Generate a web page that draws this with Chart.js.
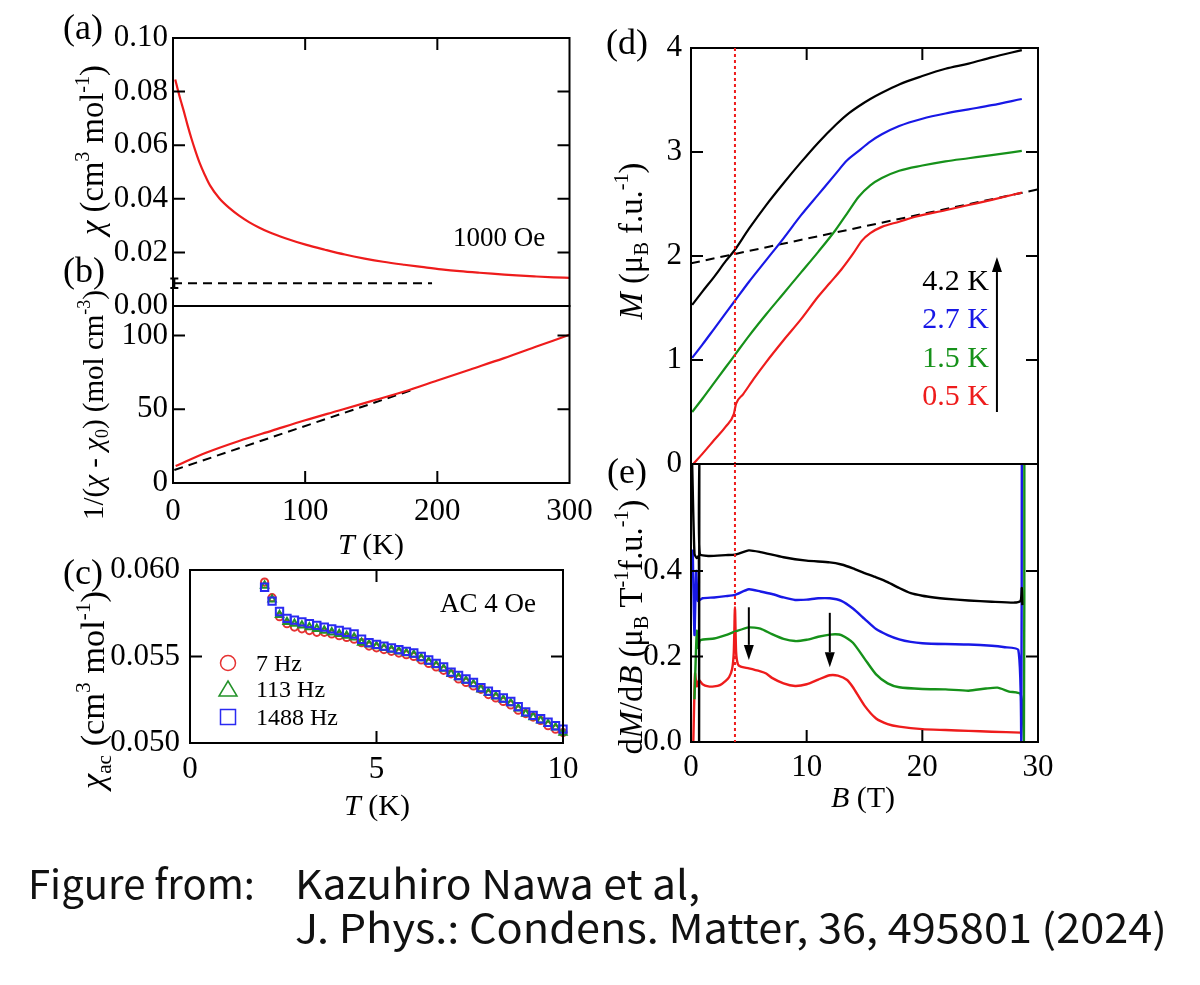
<!DOCTYPE html>
<html><head><meta charset="utf-8">
<script src="https://cdn.jsdelivr.net/npm/chart.js@4.4.0/dist/chart.umd.min.js"></script>
<style>
html,body{margin:0;padding:0;background:#fff;}
body{width:1200px;height:985px;position:relative;overflow:hidden;}
canvas{position:absolute;left:0;top:0;}
.cap{position:absolute;font-family:"Noto Sans CJK JP","Noto Sans",sans-serif;font-weight:400;font-size:40px;color:#111;white-space:nowrap;line-height:1;transform-origin:0 0;}
</style></head><body>
<canvas id="ca" width="1200" height="985"></canvas>
<canvas id="cb" width="1200" height="985"></canvas>
<canvas id="cc" width="1200" height="985"></canvas>
<canvas id="cd" width="1200" height="985"></canvas>
<canvas id="ce" width="1200" height="985"></canvas>
<div class="cap" data-w="227" style="left:28px;top:862px;">Figure from:</div>
<div class="cap" data-w="405" style="left:295px;top:862px;">Kazuhiro Nawa et al,</div>
<div class="cap" data-w="872" style="left:295px;top:906px;">J. Phys.: Condens. Matter, 36, 495801 (2024)</div>
<script>
// ---------------- DATA ----------------
// (a) chi vs T
const aT   = [1.7, 4, 6, 8, 11, 14, 17, 20, 24, 28, 35, 43, 50, 57.5, 65, 72, 85, 101, 115, 130, 145, 159, 175, 188, 203, 217, 232, 246, 260, 275, 288, 300];
const aChi = [0.0845, 0.0800, 0.0764, 0.0730, 0.0675, 0.0624, 0.0578, 0.0536, 0.0490, 0.0450, 0.0402, 0.0364, 0.0337, 0.0313, 0.0293, 0.0277, 0.0253, 0.0228, 0.0210, 0.0192, 0.0177, 0.0165, 0.0154, 0.0146, 0.0137, 0.0130, 0.0124, 0.0119, 0.0114, 0.0110, 0.0107, 0.0105];
const aChi0T = [0, 196];
const aChi0  = [0.0085, 0.0085];
const aChi0Err = 0.0018;
const aTicksY = [0, 0.02, 0.04, 0.06, 0.08, 0.10];
const abTicksX = [0, 100, 200, 300];
// (b) 1/(chi - chi0) vs T
const bT   = [2, 25, 50, 75, 100, 125, 150, 175, 200, 225, 250, 275, 300];
const bInv = [11.5, 20.5, 28.5, 35.5, 42.5, 49, 55.5, 62, 69.5, 77, 84.5, 92.5, 100.5];
const bFitT   = [1, 180];
const bFitInv = [8.8, 62.8];
const bTicksY = [0, 50, 100];
// (c) chi_ac vs T
const cT = [2.0, 2.2, 2.4, 2.6, 2.8, 3.0, 3.2, 3.4, 3.6, 3.8, 4.0, 4.2, 4.4, 4.6, 4.8, 5.0, 5.2, 5.4, 5.6, 5.8, 6.0, 6.2, 6.4, 6.6, 6.8, 7.0, 7.2, 7.4, 7.6, 7.8, 8.0, 8.2, 8.4, 8.6, 8.8, 9.0, 9.2, 9.4, 9.6, 9.8, 10.0];
const c7Hz    = [0.0593, 0.0584, 0.0573, 0.0569, 0.0567, 0.0566, 0.0565, 0.0564, 0.0564, 0.0563, 0.0562, 0.0561, 0.0560, 0.0558, 0.0556, 0.0555, 0.0554, 0.0553, 0.0552, 0.0551, 0.0550, 0.0548, 0.0546, 0.0544, 0.0542, 0.0540, 0.0537, 0.0535, 0.0533, 0.0531, 0.0528, 0.0526, 0.0524, 0.0522, 0.0519, 0.0517, 0.0515, 0.0513, 0.0510, 0.0508, 0.0506];
const c113Hz  = [0.0591, 0.0583, 0.0574, 0.0570, 0.0569, 0.0568, 0.0567, 0.0566, 0.0565, 0.0564, 0.0563, 0.0562, 0.0561, 0.0558, 0.0557, 0.0556, 0.0555, 0.0554, 0.0553, 0.0552, 0.0551, 0.0549, 0.0547, 0.0545, 0.0543, 0.0540, 0.0538, 0.0536, 0.0534, 0.0531, 0.0529, 0.0527, 0.0525, 0.0523, 0.0520, 0.0517, 0.0515, 0.0513, 0.0511, 0.0509, 0.0506];
const c1488Hz = [0.0590, 0.0582, 0.0576, 0.0572, 0.0571, 0.0570, 0.0569, 0.0568, 0.0567, 0.0566, 0.0565, 0.0564, 0.0563, 0.0560, 0.0558, 0.0557, 0.0556, 0.0555, 0.0554, 0.0553, 0.0552, 0.0550, 0.0548, 0.0546, 0.0544, 0.0541, 0.0539, 0.0537, 0.0535, 0.0532, 0.0530, 0.0528, 0.0526, 0.0524, 0.0521, 0.0518, 0.0516, 0.0514, 0.0512, 0.0510, 0.0508];
const cLabels = ['7 Hz', '113 Hz', '1488 Hz'];
const cTicksX = [0, 5, 10];
const cTicksY = [0.050, 0.055, 0.060];
// (d) M vs B
const dB      = [0.1, 1, 2, 3, 3.8, 5, 6.5, 8, 9.5, 11, 12.5, 13.5, 14.5, 15.5, 16.5, 18, 20, 22, 24, 26, 28.6];
const dM42    = [1.53, 1.66, 1.80, 1.95, 2.06, 2.26, 2.49, 2.70, 2.90, 3.09, 3.26, 3.36, 3.44, 3.51, 3.57, 3.65, 3.73, 3.80, 3.85, 3.91, 3.98];
const dM27    = [1.02, 1.15, 1.30, 1.45, 1.57, 1.75, 1.96, 2.17, 2.39, 2.59, 2.79, 2.92, 3.01, 3.10, 3.17, 3.25, 3.32, 3.37, 3.41, 3.45, 3.51];
const dM15    = [0.50, 0.63, 0.78, 0.93, 1.05, 1.23, 1.44, 1.64, 1.84, 2.04, 2.25, 2.41, 2.57, 2.68, 2.75, 2.82, 2.87, 2.91, 2.94, 2.97, 3.01];
const dB05    = [0.2, 1, 2, 3, 3.7, 3.9, 4.5, 5.5, 6.5, 8, 9.5, 11, 12, 13, 14, 14.8, 15.5, 16.5, 18, 19.5, 22, 24, 26, 28.6];
const dM05    = [0.0, 0.1, 0.23, 0.36, 0.48, 0.58, 0.67, 0.83, 0.98, 1.19, 1.39, 1.61, 1.74, 1.87, 2.02, 2.15, 2.22, 2.28, 2.33, 2.38, 2.44, 2.49, 2.54, 2.61];
const dFitB = [0, 30];
const dFitM = [1.93, 2.64];
const dLabels = ['4.2 K', '2.7 K', '1.5 K', '0.5 K'];
const deTicksX = [0, 10, 20, 30];
const dTicksY = [0, 1, 2, 3, 4];
const dotB = 3.8;
// (e) dM/dB vs B
const eB42 = [0.1, 0.3, 0.5, 0.68, 0.7, 0.72, 0.76, 1.5, 3, 3.8, 5, 6, 8, 10, 12, 13, 14, 15, 16, 17, 18, 19, 20, 21, 22, 24, 26, 28, 28.5, 28.6, 28.65];
const e42  = [0.65, 0.44, 0.43, 0.435, 0.0, 0.65, 0.44, 0.435, 0.437, 0.438, 0.448, 0.444, 0.432, 0.424, 0.42, 0.415, 0.406, 0.395, 0.385, 0.374, 0.36, 0.348, 0.342, 0.338, 0.335, 0.331, 0.328, 0.326, 0.33, 0.36, 0.32];
const eB27 = [0.15, 0.3, 0.45, 0.6, 1, 2, 3, 3.8, 5, 6, 7, 8, 9, 10, 11, 12, 13, 14, 15, 16, 17, 18, 19, 20, 22, 24, 26, 27, 28.3, 28.55, 28.6];
const e27  = [0.45, 0.25, 0.40, 0.33, 0.336, 0.338, 0.341, 0.344, 0.357, 0.352, 0.346, 0.338, 0.332, 0.333, 0.336, 0.336, 0.33, 0.312, 0.288, 0.264, 0.25, 0.24, 0.234, 0.231, 0.229, 0.228, 0.225, 0.222, 0.215, 0.0, 0.65];
const eB15 = [0.3, 0.5, 0.6, 0.8, 2, 3, 3.8, 5, 6, 7, 8, 9, 10, 11, 12, 12.5, 13, 14, 15, 16, 17, 18, 20, 22, 24, 25.5, 26.5, 27.5, 28.5, 28.78, 28.82];
const e15  = [0.10, 0.26, 0.22, 0.238, 0.242, 0.25, 0.258, 0.268, 0.265, 0.252, 0.241, 0.236, 0.239, 0.246, 0.251, 0.252, 0.25, 0.232, 0.195, 0.158, 0.137, 0.128, 0.124, 0.123, 0.12, 0.125, 0.127, 0.118, 0.112, 0.0, 0.65];
const eB05 = [0.2, 0.35, 0.5, 0.7, 1, 1.5, 2, 2.5, 3, 3.3, 3.55, 3.7, 3.8, 3.9, 4.05, 4.3, 5, 6, 6.5, 7, 8, 9, 10, 11, 12, 12.7, 13.5, 14, 15, 16, 17, 18, 20, 22, 24, 26, 28.5];
const e05  = [0.0, 0.16, 0.13, 0.145, 0.135, 0.13, 0.13, 0.133, 0.143, 0.152, 0.17, 0.21, 0.315, 0.21, 0.182, 0.176, 0.172, 0.165, 0.16, 0.15, 0.137, 0.131, 0.135, 0.146, 0.156, 0.155, 0.145, 0.128, 0.085, 0.055, 0.042, 0.036, 0.03, 0.028, 0.026, 0.024, 0.022];
const eArrowB   = [5, 12];
const eArrowTop = [0.315, 0.302];
const eArrowTip = [0.192, 0.175];
const eTicksY = [0, 0.2, 0.4];

// ---------------- STYLE / HELPERS ----------------
const SERIF = '"Liberation Serif","Times New Roman",serif';
const RED = '#ee1c1c', GREEN = '#16911a', BLUE = '#1818e6', BLACK = '#000';
const pts = (xs, ys) => xs.map((x, i) => ({x: x, y: ys[i]}));

function rich(ctx, parts, cx, cy, size, rot, len, align) {
  const fontFor = (st, s) => {
    const small = (st === 'sup' || st === 'sub' || st === 'isub');
    const f = small ? s * 0.62 : s;
    return ((st === 'i' || st === 'isub') ? 'italic ' : '') + f.toFixed(2) + 'px ' + SERIF;
  };
  const measure = (s) => { let w = 0; const ws = parts.map(([t, st]) => { ctx.font = fontFor(st, s); const m = ctx.measureText(t).width; w += m; return m; }); return {w, ws}; };
  let m = measure(size);
  if (len) { size = size * len / m.w; m = measure(size); }
  ctx.save();
  ctx.translate(cx, cy);
  if (rot) ctx.rotate(rot);
  ctx.fillStyle = '#000';
  ctx.textBaseline = 'alphabetic'; ctx.textAlign = 'left';
  let x = align === 'left' ? 0 : (align === 'right' ? -m.w : -m.w / 2);
  const base = size * 0.33;
  parts.forEach(([t, st], i) => {
    ctx.font = fontFor(st, size);
    const dy = st === 'sup' ? -size * 0.42 : ((st === 'sub' || st === 'isub') ? size * 0.2 : 0);
    ctx.fillText(t, x, base + dy);
    x += m.ws[i];
  });
  ctx.restore();
}

function text(ctx, t, x, y, size, color, align) {
  ctx.save();
  ctx.font = size + 'px ' + SERIF;
  ctx.fillStyle = color || '#000';
  ctx.textAlign = align || 'left';
  ctx.textBaseline = 'alphabetic';
  ctx.fillText(t, x, y);
  ctx.restore();
}

function vArrow(ctx, x, y1, y2, color) { // from y1 to y2 with head at y2
  const dir = y2 > y1 ? 1 : -1, hl = 15, hw = 5;
  ctx.save();
  ctx.strokeStyle = color; ctx.fillStyle = color; ctx.lineWidth = 2;
  ctx.beginPath(); ctx.moveTo(x, y1); ctx.lineTo(x, y2 - dir * hl); ctx.stroke();
  ctx.beginPath(); ctx.moveTo(x, y2); ctx.lineTo(x - hw, y2 - dir * hl); ctx.lineTo(x + hw, y2 - dir * hl); ctx.closePath(); ctx.fill();
  ctx.restore();
}

const framePlugin = {
  id: 'frame',
  afterDatasetsDraw(chart, args, opts) {
    const {ctx, chartArea: a, scales} = chart;
    const sides = opts.sides || 'tblr', L = 12;
    ctx.save();
    ctx.strokeStyle = '#000'; ctx.lineWidth = 2;
    ctx.beginPath();
    scales.x.ticks.forEach(t => {
      const p = scales.x.getPixelForValue(t.value);
      if (p < a.left + 3 || p > a.right - 3) return;
      if (sides.includes('t')) { ctx.moveTo(p, a.top); ctx.lineTo(p, a.top + L); }
      if (sides.includes('b')) { ctx.moveTo(p, a.bottom); ctx.lineTo(p, a.bottom - L); }
    });
    scales.y.ticks.forEach(t => {
      const p = scales.y.getPixelForValue(t.value);
      if (p < a.top + 3 || p > a.bottom - 3) return;
      if (sides.includes('l')) { ctx.moveTo(a.left, p); ctx.lineTo(a.left + L, p); }
      if (sides.includes('r')) { ctx.moveTo(a.right, p); ctx.lineTo(a.right - L, p); }
    });
    ctx.stroke();
    ctx.strokeRect(a.left, a.top, a.right - a.left, a.bottom - a.top);
    ctx.restore();
  }
};

function axis(min, max, ticks, fmt, show, pad, sizeFn) {
  return {
    type: 'linear', min: min, max: max,
    grid: {display: false, drawTicks: false},
    border: {display: false},
    afterBuildTicks: s => { s.ticks = ticks.map(v => ({value: v})); },
    afterFit: sizeFn,
    ticks: {display: show, padding: pad, color: '#000', font: {family: SERIF, size: 31}, maxRotation: 0, autoSkip: false,
            callback: v => fmt(v)}
  };
}

function makeChart(id, box, datasets, xs, ys, sides, draw) {
  return new Chart(document.getElementById(id), {
    type: 'line',
    data: {datasets: datasets},
    options: {
      responsive: false, animation: false, devicePixelRatio: 1,
      layout: {padding: {left: box.l - box.yw, top: box.t, right: 1200 - box.r, bottom: 985 - box.b - box.xh}},
      plugins: {legend: {display: false}, tooltip: {enabled: false}, frame: {sides: sides}},
      scales: {x: xs, y: ys}
    },
    plugins: [framePlugin, {id: 'annot_' + id, afterDraw: chart => draw(chart)}]
  });
}

const line = (data, color, extra) => Object.assign({data: data, borderColor: color, backgroundColor: color, borderWidth: 2.2, pointRadius: 0, fill: false, clip: 0, cubicInterpolationMode: 'monotone'}, extra || {});
const dashed = (data) => line(data, '#000', {borderDash: [9, 6], borderWidth: 2, cubicInterpolationMode: 'default', tension: 0});

// ---------------- PANEL (a) ----------------
const boxA = {l: 173, t: 38, r: 569.5, b: 306, yw: 100, xh: 0};
makeChart('ca', boxA,
  [line(pts(aT, aChi), RED), dashed(pts(aChi0T, aChi0))],
  axis(0, 300, abTicksX, v => String(v), false, 0, s => { s.height = boxA.xh; }),
  axis(0, 0.1, aTicksY, v => v.toFixed(2), true, 5, s => { s.width = boxA.yw; }),
  'tlr',
  chart => {
    const {ctx, scales: {x, y}} = chart;
    const ex = x.getPixelForValue(1), y1 = y.getPixelForValue(aChi0[0] - aChi0Err), y2 = y.getPixelForValue(aChi0[0] + aChi0Err);
    ctx.save(); ctx.strokeStyle = '#000'; ctx.lineWidth = 2; ctx.beginPath();
    ctx.moveTo(ex, y1); ctx.lineTo(ex, y2); ctx.moveTo(ex - 4, y1); ctx.lineTo(ex + 4, y1); ctx.moveTo(ex - 4, y2); ctx.lineTo(ex + 4, y2);
    ctx.stroke(); ctx.restore();
    text(ctx, '1000 Oe', 453, 246, 27);
    rich(ctx, [['(a)', '']], 83, 27, 36);
    rich(ctx, [['(b)', '']], 84, 270, 36);
    rich(ctx, [['χ', 'i'], [' (cm', ''], ['3', 'sup'], [' mol', ''], ['-1', 'sup'], [')', '']], 92, 150, 30, -Math.PI / 2, 170);
  });

// ---------------- PANEL (b) ----------------
const boxB = {l: 173, t: 306, r: 569.5, b: 483, yw: 100, xh: 60};
makeChart('cb', boxB,
  [line(pts(bT, bInv), RED), dashed(pts(bFitT, bFitInv))],
  axis(0, 300, abTicksX, v => String(v), true, 10, s => { s.height = boxB.xh; }),
  axis(0, 120, bTicksY, v => String(v), true, 5, s => { s.width = boxB.yw; }),
  'blr',
  chart => {
    const {ctx} = chart;
    rich(ctx, [['1/(', ''], ['χ', 'i'], [' - ', ''], ['χ', 'i'], ['0', 'sub'], [') (mol cm', ''], ['-3', 'sup'], [')', '']], 93, 405, 28, -Math.PI / 2, 230);
    rich(ctx, [['T', 'i'], [' (K)', '']], 371, 544, 30);
  });

// ---------------- PANEL (c) ----------------
const boxC = {l: 190, t: 570, r: 563, b: 743, yw: 100, xh: 60};
const C_RED = '#e63232', C_GREEN = '#23922a', C_BLUE = '#2a2af2';
const mk = (data, color, style, r) => ({data: data, showLine: false, borderColor: color, backgroundColor: 'rgba(0,0,0,0)', pointStyle: style, pointRadius: r, pointBorderWidth: 2, pointBorderColor: color, pointBackgroundColor: 'rgba(0,0,0,0)', clip: 6});
makeChart('cc', boxC,
  [mk(pts(cT, c1488Hz), C_BLUE, 'rect', 5.2), mk(pts(cT, c113Hz), C_GREEN, 'triangle', 4.2), mk(pts(cT, c7Hz), C_RED, 'circle', 3.6)],
  axis(0, 10, cTicksX, v => String(v), true, 8, s => { s.height = boxC.xh; }),
  axis(0.05, 0.06, cTicksY, v => v.toFixed(3), true, 10, s => { s.width = boxC.yw; }),
  'tblr',
  chart => {
    const {ctx} = chart;
    rich(ctx, [['(c)', '']], 83, 572, 36);
    text(ctx, 'AC 4 Oe', 440, 612, 27);
    const lx = 228, ly = [663, 689, 717];
    ctx.save(); ctx.lineWidth = 1.5;
    ctx.strokeStyle = C_RED; ctx.beginPath(); ctx.arc(lx, ly[0], 7.5, 0, 2 * Math.PI); ctx.stroke();
    ctx.strokeStyle = C_GREEN; ctx.beginPath(); ctx.moveTo(lx, ly[1] - 8); ctx.lineTo(lx + 9, ly[1] + 7); ctx.lineTo(lx - 9, ly[1] + 7); ctx.closePath(); ctx.stroke();
    ctx.strokeStyle = C_BLUE; ctx.strokeRect(lx - 7.5, ly[2] - 7.5, 15, 15);
    ctx.restore();
    cLabels.forEach((t, i) => text(ctx, t, 256, ly[i] + 8, 24));
    rich(ctx, [['χ', 'i'], ['ac', 'sub'], [' (cm', ''], ['3', 'sup'], [' mol', ''], ['-1', 'sup'], [')', '']], 93, 690, 30, -Math.PI / 2, 198);
    rich(ctx, [['T', 'i'], [' (K)', '']], 377, 805, 30);
  });

// ---------------- PANEL (d) ----------------
const boxD = {l: 691, t: 48, r: 1038, b: 464, yw: 80, xh: 0};
makeChart('cd', boxD,
  [line(pts(dB, dM42), BLACK), line(pts(dB, dM27), BLUE), line(pts(dB, dM15), GREEN), line(pts(dB05, dM05), RED), dashed(pts(dFitB, dFitM))],
  axis(0, 30, deTicksX, v => String(v), false, 0, s => { s.height = boxD.xh; }),
  axis(0, 4, dTicksY, v => String(v), true, 9, s => { s.width = boxD.yw; }),
  'tlr',
  chart => {
    const {ctx, chartArea: a, scales: {x, y}} = chart;
    const px = x.getPixelForValue(dotB);
    ctx.save(); ctx.strokeStyle = RED; ctx.lineWidth = 2; ctx.setLineDash([3, 3]);
    ctx.beginPath(); ctx.moveTo(px, a.top); ctx.lineTo(px, a.bottom); ctx.stroke(); ctx.restore();
    const cols = [BLACK, BLUE, GREEN, RED], by = [290, 328, 367, 405];
    dLabels.forEach((t, i) => text(ctx, t, 989, by[i], 30, cols[i], 'right'));
    vArrow(ctx, x.getPixelForValue(26.45), y.getPixelForValue(0.5), y.getPixelForValue(1.99), '#000');
    rich(ctx, [['(d)', '']], 627, 42, 36);
    rich(ctx, [['M', 'i'], [' (μ', ''], ['B', 'sub'], [' f.u.', ''], ['-1', 'sup'], [')', '']], 631, 241, 30, -Math.PI / 2, 157);
  });

// ---------------- PANEL (e) ----------------
const boxE = {l: 691, t: 464, r: 1038, b: 742, yw: 80, xh: 60};
const eLine = (data, color) => line(data, color, {cubicInterpolationMode: 'default', tension: 0.2, borderWidth: 2.4});
makeChart('ce', boxE,
  [eLine(pts(eB42, e42), BLACK), eLine(pts(eB27, e27), BLUE), eLine(pts(eB15, e15), GREEN), eLine(pts(eB05, e05), RED)],
  axis(0, 30, deTicksX, v => String(v), true, 7.5, s => { s.height = boxE.xh; }),
  axis(0, 0.65, eTicksY, v => v.toFixed(1), true, 9, s => { s.width = boxE.yw; }),
  'blr',
  chart => {
    const {ctx, chartArea: a, scales: {x, y}} = chart;
    const px = x.getPixelForValue(dotB);
    ctx.save(); ctx.strokeStyle = RED; ctx.lineWidth = 2; ctx.setLineDash([3, 3]);
    ctx.beginPath(); ctx.moveTo(px, a.top); ctx.lineTo(px, a.bottom); ctx.stroke(); ctx.restore();
    eArrowB.forEach((b, i) => vArrow(ctx, x.getPixelForValue(b), y.getPixelForValue(eArrowTop[i]), y.getPixelForValue(eArrowTip[i]), '#000'));
    rich(ctx, [['(e)', '']], 627, 471, 36);
    rich(ctx, [['d', ''], ['M', 'i'], ['/d', ''], ['B', 'i'], [' (μ', ''], ['B', 'sub'], [' T', ''], ['-1', 'sup'], ['f.u.', ''], ['-1', 'sup'], [')', '']], 631, 627, 30, -Math.PI / 2, 255);
    rich(ctx, [['B', 'i'], [' (T)', '']], 863, 797, 30);
  });

// caption: fit each run to the width it has in the reference
document.querySelectorAll('.cap').forEach(el => {
  const w = el.getBoundingClientRect().width;
  const target = parseFloat(el.dataset.w);
  if (w > 0) el.style.transform = 'scaleX(' + (target / w).toFixed(4) + ')';
});
</script>
</body></html>
